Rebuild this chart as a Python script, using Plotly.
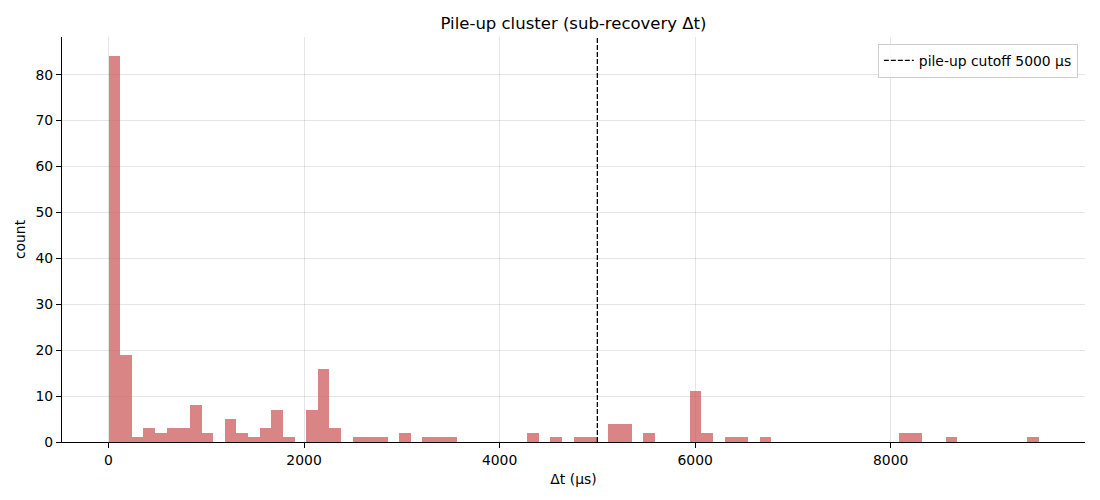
import plotly.graph_objects as go

# Histogram data (80 bins, 0 .. ~9512 us)
bin_start = 0.0
bin_width = 118.9
counts = [84, 19, 1, 3, 2, 3, 3, 8, 2, 0,
          5, 2, 1, 3, 7, 1, 0, 7, 16, 3,
          0, 1, 1, 1, 0, 2, 0, 1, 1, 1,
          0, 0, 0, 0, 0, 0, 2, 0, 1, 0,
          1, 1, 0, 4, 4, 0, 2, 0, 0, 0,
          11, 2, 0, 1, 1, 0, 1, 0, 0, 0,
          0, 0, 0, 0, 0, 0, 0, 0, 2, 2,
          0, 0, 1, 0, 0, 0, 0, 0, 0, 1]
cutoff = 5000
x_ticks = [0, 2000, 4000, 6000, 8000]
y_ticks = [0, 10, 20, 30, 40, 50, 60, 70, 80]

centers = [bin_start + (i + 0.5) * bin_width for i in range(len(counts))]
x_min = bin_start
x_max = bin_start + bin_width * len(counts)
pad = 0.05 * (x_max - x_min)
y_max = max(counts) * 1.05

FONT = "DejaVu Sans"
FS = 13.9
W, H = 1092, 492

fig = go.Figure()
fig.add_trace(go.Bar(
    x=centers, y=counts, width=bin_width,
    marker=dict(color="rgba(205,92,92,0.75)", line=dict(width=0)),
    showlegend=False, hoverinfo="x+y",
))
fig.add_shape(
    type="line", x0=cutoff, x1=cutoff, y0=0, y1=1,
    xref="x", yref="y domain",
    line=dict(color="black", width=1.3, dash="5px,2px"),
    showlegend=True, name=f"pile-up cutoff {cutoff} μs",
)

fig.update_layout(
    width=W, height=H,
    margin=dict(l=54, r=15, t=29, b=58),
    paper_bgcolor="white", plot_bgcolor="white",
    font=dict(family=FONT, size=FS, color="black"),
    title=dict(text="Pile-up cluster (sub-recovery Δt)", x=(54 + 1077) / 2 / W, xanchor="center",
               y=1 - 15 / H, yanchor="middle",
               font=dict(family=FONT, size=16.5, color="black")),
    bargap=0,
    legend=dict(x=0.993, y=0.983, xanchor="right", yanchor="top",
                bgcolor="rgba(255,255,255,0.8)", bordercolor="#cccccc", borderwidth=1,
                font=dict(family=FONT, size=FS, color="black"),
                itemwidth=30),
    xaxis=dict(
        range=[x_min - pad, x_max + pad],
        tickvals=x_ticks, ticktext=[str(t) for t in x_ticks],
        ticks="outside", ticklen=5, tickwidth=1, tickcolor="black",
        showline=True, linecolor="black", linewidth=1.2, mirror=False,
        showgrid=True, gridcolor="rgba(0,0,0,0.1)", gridwidth=1,
        zeroline=False,
        title=dict(text="Δt (μs)", font=dict(family=FONT, size=FS), standoff=7),
        automargin=False,
    ),
    yaxis=dict(
        range=[0, y_max],
        tickvals=y_ticks,
        ticks="outside", ticklen=5, tickwidth=1, tickcolor="black",
        showline=True, linecolor="black", linewidth=1.2, mirror=False,
        showgrid=True, gridcolor="rgba(0,0,0,0.1)", gridwidth=1,
        zeroline=False,
        title=dict(text="count", font=dict(family=FONT, size=FS), standoff=6),
        automargin=False,
    ),
)

fig.write_html("out.html")
